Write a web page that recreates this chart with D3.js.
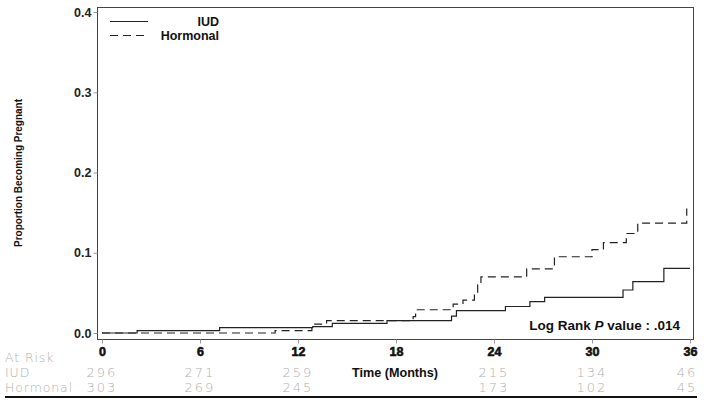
<!DOCTYPE html>
<html><head><meta charset="utf-8">
<script src="https://cdn.jsdelivr.net/npm/d3@7"></script>
<style>body{margin:0;background:#fff}svg{display:block}</style>
</head><body>
<svg id="c" width="706" height="404"></svg>
<script>
const iudTimes  = [0, 2.15, 7.2, 12.9, 14.1, 17.45, 21.4, 21.7, 24.7, 26.2, 27.1, 31.9, 32.5, 34.4, 36];
const iudValues = [0, 0.003, 0.0066, 0.008, 0.012, 0.0153, 0.021, 0.028, 0.033, 0.039, 0.0445, 0.0536, 0.064, 0.0806, 0.0806];
const hormTimes  = [0, 10.6, 12.85, 13.75, 19.05, 19.2, 21.5, 22.1, 22.8, 23.0, 23.2, 26.0, 27.7, 30.0, 30.7, 32.1, 32.8, 35.8];
const hormValues = [0, 0.003, 0.011, 0.0153, 0.0205, 0.029, 0.036, 0.041, 0.05, 0.06, 0.07, 0.08, 0.095, 0.104, 0.1125, 0.124, 0.137, 0.155];
const xTicks = [0, 6, 12, 18, 24, 30, 36];
const yTicks = [0, 0.1, 0.2, 0.3, 0.4];
const riskIUD  = ["296", "271", "259", "", "215", "134", "46"];
const riskHorm = ["303", "269", "245", "", "173", "102", "45"];

const svg = d3.select("#c");
const x = d3.scaleLinear().domain([0, 36]).range([102, 690]);
const y = d3.scaleLinear().domain([0, 0.4]).range([333, 12]);
const font = "'Liberation Sans', Arial, sans-serif";

// frame
svg.append("rect").attr("x", 97.5).attr("y", 7.5).attr("width", 596).attr("height", 332)
  .attr("fill", "none").attr("stroke", "#444").attr("stroke-width", 1);

// y axis
const ya = svg.append("g").attr("transform", "translate(97.5,0)")
  .call(d3.axisLeft(y).tickValues(yTicks).tickFormat(d3.format(".1f")).tickSize(4).tickPadding(2));
ya.select(".domain").remove();
ya.selectAll("line").attr("stroke", "#999");
ya.selectAll("text").attr("font-family", font).attr("font-weight", "bold").attr("font-size", 12.5).attr("fill", "#222");

// x axis
const xa = svg.append("g").attr("transform", "translate(0,339.5)")
  .call(d3.axisBottom(x).tickValues(xTicks).tickFormat(d3.format("d")).tickSize(4).tickPadding(4));
xa.select(".domain").remove();
xa.selectAll("line").attr("stroke", "#999");
xa.selectAll("text").attr("font-family", font).attr("font-weight", "bold").attr("font-size", 12.5).attr("fill", "#111")
  .attr("stroke", "#111").attr("stroke-width", 0.6);

// curves
const line = d3.line().x(d => x(d[0])).y(d => y(d[1])).curve(d3.curveStepAfter);
svg.append("path").datum(iudTimes.map((t, i) => [t, iudValues[i]]))
  .attr("d", line).attr("fill", "none").attr("stroke", "#222").attr("stroke-width", 1.2);
svg.append("path").datum(hormTimes.map((t, i) => [t, hormValues[i]]))
  .attr("d", line).attr("fill", "none").attr("stroke", "#222").attr("stroke-width", 1.2)
  .attr("stroke-dasharray", "8,5");

// legend
svg.append("line").attr("x1", 110).attr("x2", 148).attr("y1", 21.5).attr("y2", 21.5).attr("stroke", "#222").attr("stroke-width", 1.2);
svg.append("line").attr("x1", 110).attr("x2", 148).attr("y1", 35.5).attr("y2", 35.5).attr("stroke", "#222").attr("stroke-width", 1.2).attr("stroke-dasharray", "8,5");
svg.append("text").attr("x", 219).attr("y", 26).attr("text-anchor", "end").attr("font-family", font).attr("font-weight", "bold").attr("font-size", 12.5).attr("fill", "#111").text("IUD");
svg.append("text").attr("x", 219).attr("y", 40).attr("text-anchor", "end").attr("font-family", font).attr("font-weight", "bold").attr("font-size", 12.5).attr("fill", "#111").text("Hormonal");

// y title
svg.append("text").attr("transform", "translate(22,173) rotate(-90)").attr("text-anchor", "middle")
  .attr("font-family", font).attr("font-weight", "bold").attr("font-size", 11.5).attr("fill", "#111")
  .attr("textLength", 148).attr("lengthAdjust", "spacingAndGlyphs").text("Proportion Becoming Pregnant");

// x title
svg.append("text").attr("x", 395).attr("y", 377).attr("text-anchor", "middle")
  .attr("font-family", font).attr("font-weight", "bold").attr("font-size", 12.5).attr("fill", "#111")
  .attr("textLength", 86).attr("lengthAdjust", "spacingAndGlyphs").text("Time  (Months)");

// log rank
const lr = svg.append("text").attr("x", 680).attr("y", 330).attr("text-anchor", "end")
  .attr("font-family", font).attr("font-weight", "bold").attr("font-size", 13.5).attr("fill", "#111");
lr.append("tspan").text("Log Rank ");
lr.append("tspan").attr("font-style", "italic").text("P");
lr.append("tspan").text(" value : .014");

// at risk table
const rf = "'DejaVu Sans', sans-serif";
const grey = "#b0b0b0";
function rowLabel(t, yy) {
  svg.append("text").attr("x", 5).attr("y", yy).attr("font-family", rf).attr("font-weight", 200)
    .attr("font-size", 12.5).attr("letter-spacing", 0.9).attr("fill", grey).text(t);
}
rowLabel("At Risk", 362);
rowLabel("IUD", 377);
rowLabel("Hormonal", 392);
function riskRow(vals, yy) {
  svg.append("g").selectAll("text").data(vals.map((v, i) => [xTicks[i], v]).filter(d => d[1] !== ""))
    .join("text").attr("x", d => x(d[0]) - (d[0] === 36 ? 3 : 0)).attr("y", yy).attr("text-anchor", "middle")
    .attr("font-family", rf).attr("font-weight", 200).attr("font-size", 13).attr("letter-spacing", 2)
    .attr("fill", grey).text(d => d[1]);
}
riskRow(riskIUD, 377);
riskRow(riskHorm, 392);

// bottom rule
svg.append("line").attr("x1", 5).attr("x2", 697).attr("y1", 397).attr("y2", 397).attr("stroke", "#111").attr("stroke-width", 1.8);
</script>
</body></html>
